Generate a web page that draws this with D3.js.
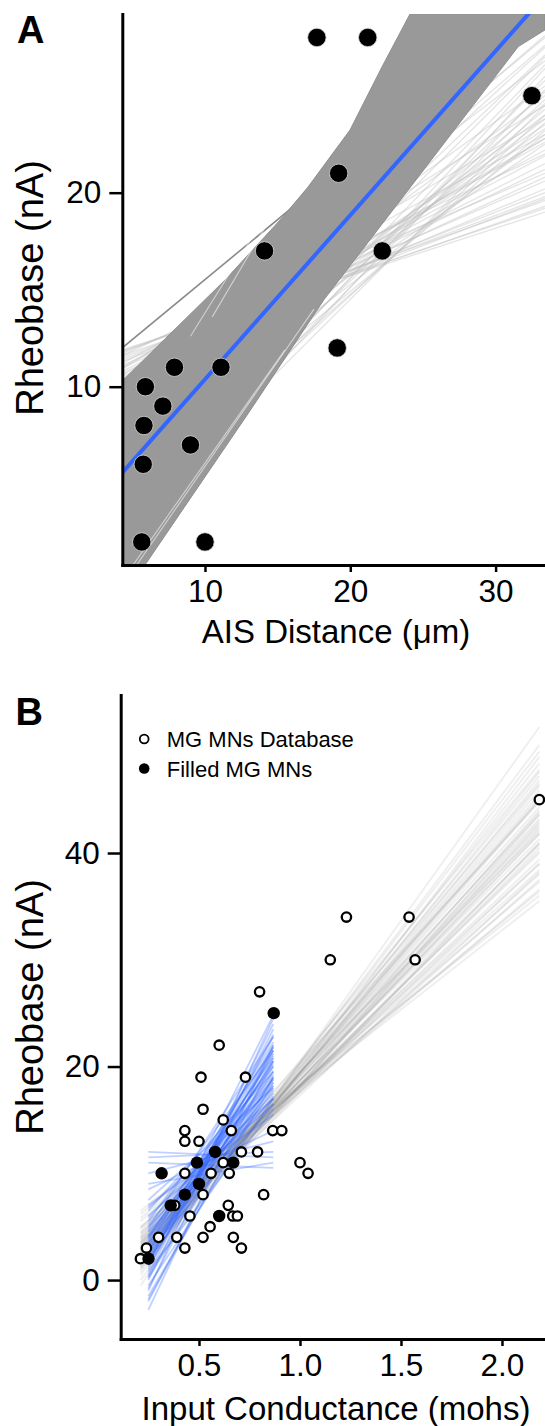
<!DOCTYPE html>
<html><head><meta charset="utf-8">
<script src="https://cdn.jsdelivr.net/npm/d3@7"></script>
<style>
body{margin:0;background:#fff}
svg{display:block}
text{font-family:"Liberation Sans",Arial,Helvetica,sans-serif;fill:#000}
</style>
</head><body>
<svg id="c" width="545" height="1426"></svg>
<script>
// ================= Panel A data =================
const aisDistance = [17.7, 21.2, 32.5, 19.2, 14.1, 22.2, 19.1, 7.9, 11.1, 5.9, 7.1, 5.8, 9.0, 5.75, 5.65, 10.0];
const rheobaseA   = [28, 28, 25, 21, 17, 17, 12, 11, 11, 10, 9, 8, 7, 6, 2, 2];
const fitA = [1.92, 0.846];                 // intercept, slope of the blue fit
const xTicksA = [10, 20, 30];
const yTicksA = [10, 20];
const xDomainA = [4.31, 33.4];
const yDomainA = [0.81, 29.21];
// envelope of the dark bootstrap band (x, y)
const bandUpperA = [[4.31,10.3],[11.38,15.5],[15.3,18.7],[17.09,20.29],[19.98,23.23],[22.18,26.48],[24.11,29.21],[33.4,29.21]];
const bandLowerA = [[4.31,0.81],[5.87,0.81],[12.98,8.63],[18.2,14.5],[22.39,18.58],[26.98,23.06],[31.56,27.53],[33.4,28.39]];
// light bootstrap lines: [y at left edge, y at right edge]
const fanLinesA = [[11.9,19.0],[11.6,19.3],[11.3,19.7],[11.0,20.2],[10.7,20.8],[10.5,21.5],[10.3,22.2],[9.5,22.8],
  [8.5,23.3],[7.2,23.8],[5.8,24.3],[4.5,24.8],[3.2,25.3],[2.4,26.0],[4.0,26.6],[6.5,27.1],[8.8,27.6],[10.0,28.0],
  [9.8,25.5],[7.8,22.5],[5.2,23.2],[3.8,24.0],[11.7,21.0],[11.2,23.0],[10.9,24.5],[11.8,19.6],[11.4,20.0],[10.6,22.6],
  [11.85,19.2],[11.5,19.8],[11.1,20.6],[10.8,21.2],[10.4,21.9],[10.1,22.8],[9.2,23.5],[8.0,24.0],[6.8,24.6],[5.0,25.2],
  [3.6,25.8],[3.0,26.4],[5.3,27.0],[7.5,27.5],[9.4,28.1],[10.2,26.8],[8.9,25.0],[6.2,23.0],[4.4,23.6],[2.8,24.5],
  [11.6,22.0],[11.0,23.8]];
const outerLineA = [[4.31,12.0],[33.4,30.0]];
const streakLinesA = [[[5.3,0.81],[17.5,14.0]],[[5.05,0.81],[15.5,11.9]],[[9.0,12.6],[21.5,27.6]],[[10.5,13.6],[22.8,29.21]]];

// ================= Panel B data =================
const dbConductance = [2.185,1.23,1.54,1.15,1.57,0.80,0.60,0.51,0.73,0.52,0.62,0.66,0.43,0.43,0.50,0.865,0.91,0.71,0.79,0.62,1.0,1.04,0.43,0.56,0.65,0.52,0.82,0.38,0.645,0.455,0.667,0.69,0.555,0.30,0.39,0.52,0.67,0.43,0.71,0.24,0.21];
const dbRheobase    = [45,34,34,30,30,27,22,19,19,16,15,14,14,13,13,14,14,12,12,11,11,10,10,10,10,8,8,7,7,6,6,6,5,4,4,4,4,3,3,3,2];
const filledConductance = [0.87,0.58,0.49,0.67,0.315,0.50,0.43,0.36,0.60,0.25];
const filledRheobase    = [25,12,11,11,10,9,8,7,6,2];
const xTicksB = [0.5, 1.0, 1.5, 2.0];
const yTicksB = [0, 20, 40];
const xDomainB = [0.1124, 2.213];
const yDomainB = [-5.52, 54.8];
const grayXB = [0.211, 2.185];
const grayLinesB = [[6.2,35.5],[5.0,36.6],[4.8,38.4],[3.9,39.4],[3.7,41.3],[3.0,42.4],[2.8,44.3],[2.0,45.5],[1.8,47.2],
  [1.0,48.4],[0.5,50.1],[-0.5,51.8],[4.3,37.5],[3.5,40.2],[2.5,43.0],[3.3,43.6],[2.2,44.9],[1.5,46.3],[2.7,41.8],
  [4.0,40.8],[3.1,45.0],[1.2,46.8],[2.4,42.2],[3.6,39.0],[5.5,37.3],[0.0,49.0],[1.9,44.0],[2.9,40.5],[6.5,36.0],
  [4.5,42.0],[1.3,43.6],[2.6,46.5],[3.4,38.2],[2.1,41.0],[4.1,44.8],
  [3.2,41.8],[2.6,43.8],[3.8,40.0],[2.3,45.2],[4.4,39.0],[1.7,45.9],[3.0,43.2],[2.0,42.8],[3.5,42.6],[2.8,40.9],
  [1.1,47.6],[4.9,38.0],[0.8,49.5],[5.8,36.4],[2.4,47.8]];
const blueXB = [0.249, 0.868];
const blueLinesB = [[3.3,19.6],[2.5,20.5],[4.0,18.5],[1.8,21.5],[3.0,19.0],[4.5,17.5],[2.0,22.0],[3.8,20.2],[2.8,18.2],
  [1.0,23.0],[5.0,17.0],[3.5,21.0],[1.5,20.0],[4.2,19.2],[2.2,18.8],[0.5,24.0],[0.0,23.5],[-1.0,24.5],[-2.8,22.0],
  [-2.0,20.5],[-1.5,18.5],[6.0,16.5],[7.0,15.5],[8.5,14.0],[10.0,13.0],[11.5,12.0],[12.0,11.5],[11.0,10.5],[9.0,11.0],
  [6.5,19.5],[5.5,21.5],[-0.5,17.0],[0.8,16.0],[1.5,24.8],[4.8,22.8],[2.5,16.5],[7.5,18.0],[-1.8,19.0],
  [3.0,20.5],[2.2,19.5],[4.1,20.8],[1.2,21.8],[3.6,18.0],[5.2,18.8],[2.6,21.2],[0.3,20.8],[1.9,17.8],[4.6,20.0],
  [3.2,22.3],[-0.8,21.5],[5.8,18.2],[2.9,17.2],[6.8,17.0],[0.2,19.0],[3.9,21.8],[1.6,22.8]];
const legendLabels = ["MG MNs Database", "Filled MG MNs"];

// ================= Drawing =================
const svg = d3.select("#c");
const FONT_TICK = 31.5, FONT_XTITLE = 33, FONT_YTITLE = 38;

function axes(g, x, y, xt, yt, fmtX, yMid, xTitle, yTitle, xTitleY) {
  const [x0] = x.range(); const [y0] = y.range();
  const ax = g.append("g").attr("transform", `translate(0,${y0})`)
    .call(d3.axisBottom(x).tickValues(xt).tickFormat(fmtX).tickSize(7).tickPadding(8).tickSizeOuter(0));
  const ay = g.append("g").attr("transform", `translate(${x0},0)`)
    .call(d3.axisLeft(y).tickValues(yt).tickFormat(d3.format("d")).tickSize(13).tickPadding(8).tickSizeOuter(0));
  [ax, ay].forEach(a => {
    a.select(".domain").attr("stroke", "#000").attr("stroke-width", 3).attr("stroke-linecap", "square");
    a.selectAll(".tick line").attr("stroke", "#000").attr("stroke-width", 2.5);
    a.selectAll(".tick text").attr("font-size", FONT_TICK).attr("font-family", null).attr("fill", "#000");
  });
  g.append("text").attr("x", 336).attr("y", xTitleY).attr("text-anchor", "middle")
    .attr("font-size", FONT_XTITLE).text(xTitle);
  g.append("text").attr("transform", `translate(43,${yMid}) rotate(-90)`).attr("text-anchor", "middle")
    .attr("font-size", FONT_YTITLE).text(yTitle);
}

// ---------- Panel A ----------
{
  const g = svg.append("g");
  const x = d3.scaleLinear().domain(xDomainA).range([122.3, 545]);
  const y = d3.scaleLinear().domain(yDomainA).range([565, 14]);
  g.append("clipPath").attr("id", "clipA").append("rect")
    .attr("x", x.range()[0]).attr("y", y.range()[1]).attr("width", x.range()[1] - x.range()[0]).attr("height", y.range()[0] - y.range()[1]);
  const p = g.append("g").attr("clip-path", "url(#clipA)");
  const line = d3.line().x(d => x(d[0])).y(d => y(d[1]));
  // light bootstrap lines
  p.selectAll(".fan").data(fanLinesA).join("path")
    .attr("d", d => line([[xDomainA[0], d[0]], [xDomainA[1], d[1]]]))
    .attr("fill", "none").attr("stroke", "#bdbdbd").attr("stroke-opacity", 0.4).attr("stroke-width", 1.4);
  p.append("path").attr("d", line(outerLineA)).attr("fill", "none").attr("stroke", "#8a8a8a").attr("stroke-width", 1.6);
  // dark band
  p.append("path").attr("d", line(bandUpperA.concat(bandLowerA.slice().reverse())) + "Z")
    .attr("fill", "#999999").attr("stroke", "#8f8f8f").attr("stroke-width", 1);
  p.selectAll(".streak").data(streakLinesA).join("path").attr("d", d => line(d))
    .attr("fill", "none").attr("stroke", "#ffffff").attr("stroke-opacity", 0.55).attr("stroke-width", 1.1);
  // fit line
  p.append("path").attr("d", line(xDomainA.map(v => [v, fitA[0] + fitA[1] * v])))
    .attr("fill", "none").attr("stroke", "#3366FF").attr("stroke-width", 4);
  // points
  p.selectAll(".pt").data(aisDistance.map((v, i) => [v, rheobaseA[i]])).join("circle")
    .attr("cx", d => x(d[0])).attr("cy", d => y(d[1])).attr("r", 9.2)
    .attr("fill", "#000").attr("stroke", "#d8d8d8").attr("stroke-width", 0.8);
  axes(g, x, y, xTicksA, yTicksA, d3.format("d"), 288, "AIS Distance (μm)", "Rheobase (nA)", 643);
  g.append("text").attr("x", 17).attr("y", 42.7).attr("font-size", 38).attr("font-weight", "bold").text("A");
}

// ---------- Panel B ----------
{
  const g = svg.append("g");
  const x = d3.scaleLinear().domain(xDomainB).range([120.7, 545]);
  const y = d3.scaleLinear().domain(yDomainB).range([1339, 695]);
  g.append("clipPath").attr("id", "clipB").append("rect")
    .attr("x", x.range()[0]).attr("y", y.range()[1]).attr("width", x.range()[1] - x.range()[0]).attr("height", y.range()[0] - y.range()[1]);
  const p = g.append("g").attr("clip-path", "url(#clipB)");
  const line = d3.line().x(d => x(d[0])).y(d => y(d[1]));
  p.selectAll(".gl").data(grayLinesB).join("path")
    .attr("d", d => line([[grayXB[0], d[0]], [grayXB[1], d[1]]]))
    .attr("fill", "none").attr("stroke", "#8c8c8c").attr("stroke-opacity", 0.14).attr("stroke-width", 2);
  p.selectAll(".bl").data(blueLinesB).join("path")
    .attr("d", d => line([[blueXB[0], d[0]], [blueXB[1], d[1]]]))
    .attr("fill", "none").attr("stroke", "#3366FF").attr("stroke-opacity", 0.3).attr("stroke-width", 1.8);
  p.selectAll(".op").data(dbConductance.map((v, i) => [v, dbRheobase[i]])).join("circle")
    .attr("cx", d => x(d[0])).attr("cy", d => y(d[1])).attr("r", 4.7)
    .attr("fill", "#fff").attr("stroke", "#000").attr("stroke-width", 2.3);
  p.selectAll(".fp").data(filledConductance.map((v, i) => [v, filledRheobase[i]])).join("circle")
    .attr("cx", d => x(d[0])).attr("cy", d => y(d[1])).attr("r", 6.2).attr("fill", "#000");
  axes(g, x, y, xTicksB, yTicksB, d3.format(".1f"), 1007, "Input Conductance (mohs)", "Rheobase (nA)", 1420);
  // legend
  const lg = g.append("g");
  lg.append("circle").attr("cx", 144.2).attr("cy", 739).attr("r", 4.4).attr("fill", "#fff").attr("stroke", "#000").attr("stroke-width", 1.8);
  lg.append("circle").attr("cx", 144.2).attr("cy", 768.5).attr("r", 5.3).attr("fill", "#000");
  lg.append("text").attr("x", 166.8).attr("y", 747.3).attr("font-size", 22).text(legendLabels[0]);
  lg.append("text").attr("x", 166.8).attr("y", 777).attr("font-size", 22).text(legendLabels[1]);
  g.append("text").attr("x", 15.6).attr("y", 725).attr("font-size", 38).attr("font-weight", "bold").text("B");
}
</script>
</body></html>
